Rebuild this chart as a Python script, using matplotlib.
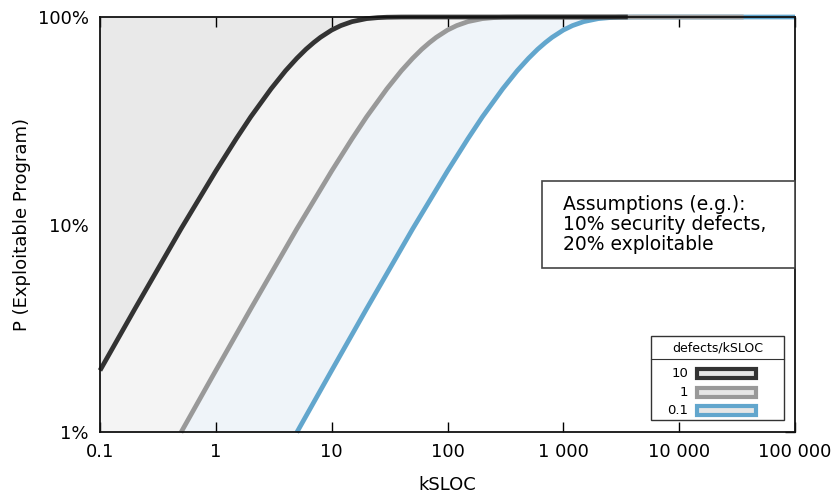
import matplotlib
matplotlib.use("Agg")
import matplotlib.pyplot as plt
from matplotlib.patches import Rectangle
from matplotlib.lines import Line2D

# ---- data ----
defect_rates = ["10", "1", "0.1"]
series_colors = ["#333333", "#999999", "#62a6cd"]
fill_colors = ["#e9e9e9", "#f4f4f4", "#eff4f9"]

ksloc_10 = [0.1, 0.2, 0.5, 1, 1.5, 2, 3, 4, 5, 6, 7, 8, 10, 12, 15, 20, 25, 30, 40, 50,
            100, 1000, 3600]
p_10 = [0.0198, 0.0392, 0.0952, 0.181, 0.259, 0.330, 0.451, 0.551, 0.632, 0.699, 0.753,
        0.798, 0.865, 0.909, 0.950, 0.982, 0.993, 0.9975, 0.9997, 1.0, 1.0, 1.0, 1.0]

ksloc_1 = [0.5, 1, 2, 5, 10, 15, 20, 30, 40, 50, 60, 70, 80, 100, 120, 150, 200, 250, 300,
           400, 500, 1000, 10000, 36000]
p_1 = [0.00995, 0.0198, 0.0392, 0.0952, 0.181, 0.259, 0.330, 0.451, 0.551, 0.632, 0.699,
       0.753, 0.798, 0.865, 0.909, 0.950, 0.982, 0.993, 0.9975, 0.9997, 1.0, 1.0, 1.0, 1.0]

ksloc_01 = [5, 10, 20, 50, 100, 150, 200, 300, 400, 500, 600, 700, 800, 1000, 1200, 1500,
            2000, 2500, 3000, 4000, 5000, 10000, 100000]
p_01 = [0.00995, 0.0198, 0.0392, 0.0952, 0.181, 0.259, 0.330, 0.451, 0.551, 0.632, 0.699,
        0.753, 0.798, 0.865, 0.909, 0.950, 0.982, 0.993, 0.9975, 0.9997, 1.0, 1.0, 1.0]

x_ticks = [0.1, 1, 10, 100, 1000, 10000, 100000]
x_ticklabels = ["0.1", "1", "10", "100", "1 000", "10 000", "100 000"]
y_ticks = [0.01, 0.1, 1.0]
y_ticklabels = ["1%", "10%", "100%"]

annotation = "Assumptions (e.g.):\n10% security defects,\n20% exploitable"

# ---- figure ----
plt.rcParams["font.family"] = ["DejaVu Sans"]
fig = plt.figure(figsize=(8.35, 4.96), dpi=100)
ax = fig.add_axes([100 / 835, 1 - 432 / 496, 695 / 835, 415 / 496])

xs = [ksloc_10, ksloc_1, ksloc_01]
ys = [p_10, p_1, p_01]
xmin, xmax = x_ticks[0], x_ticks[-1]

# fills (widest first)
for i in [2, 1, 0]:
    ax.fill_betweenx(ys[i], xmin, xs[i], color=fill_colors[i], lw=0, zorder=1)

# curves
for i, z in zip([2, 1, 0], [3, 4, 5]):
    ax.plot(xs[i], ys[i], color=series_colors[i], lw=3.4, solid_capstyle="butt",
            clip_on=False, zorder=z)

ax.set_xscale("log")
ax.set_yscale("log")
ax.set_xlim(xmin, xmax)
ax.set_ylim(y_ticks[0], y_ticks[-1])
ax.set_xticks(x_ticks)
ax.set_xticklabels(x_ticklabels)
ax.set_yticks(y_ticks)
ax.set_yticklabels(y_ticklabels)
ax.minorticks_off()
ax.tick_params(axis="x", which="major", direction="in", length=7, width=1, top=True,
               labelsize=13, pad=8)
ax.tick_params(axis="y", which="major", direction="in", length=7, width=1, left=False,
               right=True, labelsize=13, pad=8)
for s in ax.spines.values():
    s.set_linewidth(1.3)
    s.set_color("#111111")
    s.set_zorder(6)

ax.set_xlabel("kSLOC", fontsize=13, labelpad=11)
ax.set_ylabel("P (Exploitable Program)", fontsize=13, labelpad=5)

# annotation box
ax.add_patch(Rectangle((0.636, 0.395), 0.364, 0.21, transform=ax.transAxes,
                       facecolor="white", edgecolor="#444444", lw=1.2, zorder=7,
                       clip_on=False))
ax.text(0.666, 0.5, annotation, transform=ax.transAxes, fontsize=13.5, va="center",
        ha="left", linespacing=1.06, zorder=8)

# legend (custom, drawn in axes fraction)
lx0, lx1, ly0, ly1, lsep = 0.793, 0.984, 0.029, 0.231, 0.176
ax.add_patch(Rectangle((lx0, ly0), lx1 - lx0, ly1 - ly0, transform=ax.transAxes,
                       facecolor="white", edgecolor="#333333", lw=1.0, zorder=7))
ax.add_line(Line2D([lx0, lx1], [lsep, lsep], transform=ax.transAxes, color="#333333",
                   lw=0.8, zorder=8))
ax.text((lx0 + lx1) / 2, (lsep + ly1) / 2, "defects/kSLOC", transform=ax.transAxes,
        fontsize=9, ha="center", va="center", zorder=8)
entry_y = [0.142, 0.096, 0.051]
for lab, col, yy in zip(defect_rates, series_colors, entry_y):
    ax.text(0.846, yy, lab, transform=ax.transAxes, fontsize=9.5, ha="right",
            va="center", zorder=8)
    ax.add_patch(Rectangle((0.859, yy - 0.011), 0.085, 0.022, transform=ax.transAxes,
                           facecolor="#e6e6e6", edgecolor=col, lw=3.0, zorder=8))

fig.savefig("out.png", dpi=100)
